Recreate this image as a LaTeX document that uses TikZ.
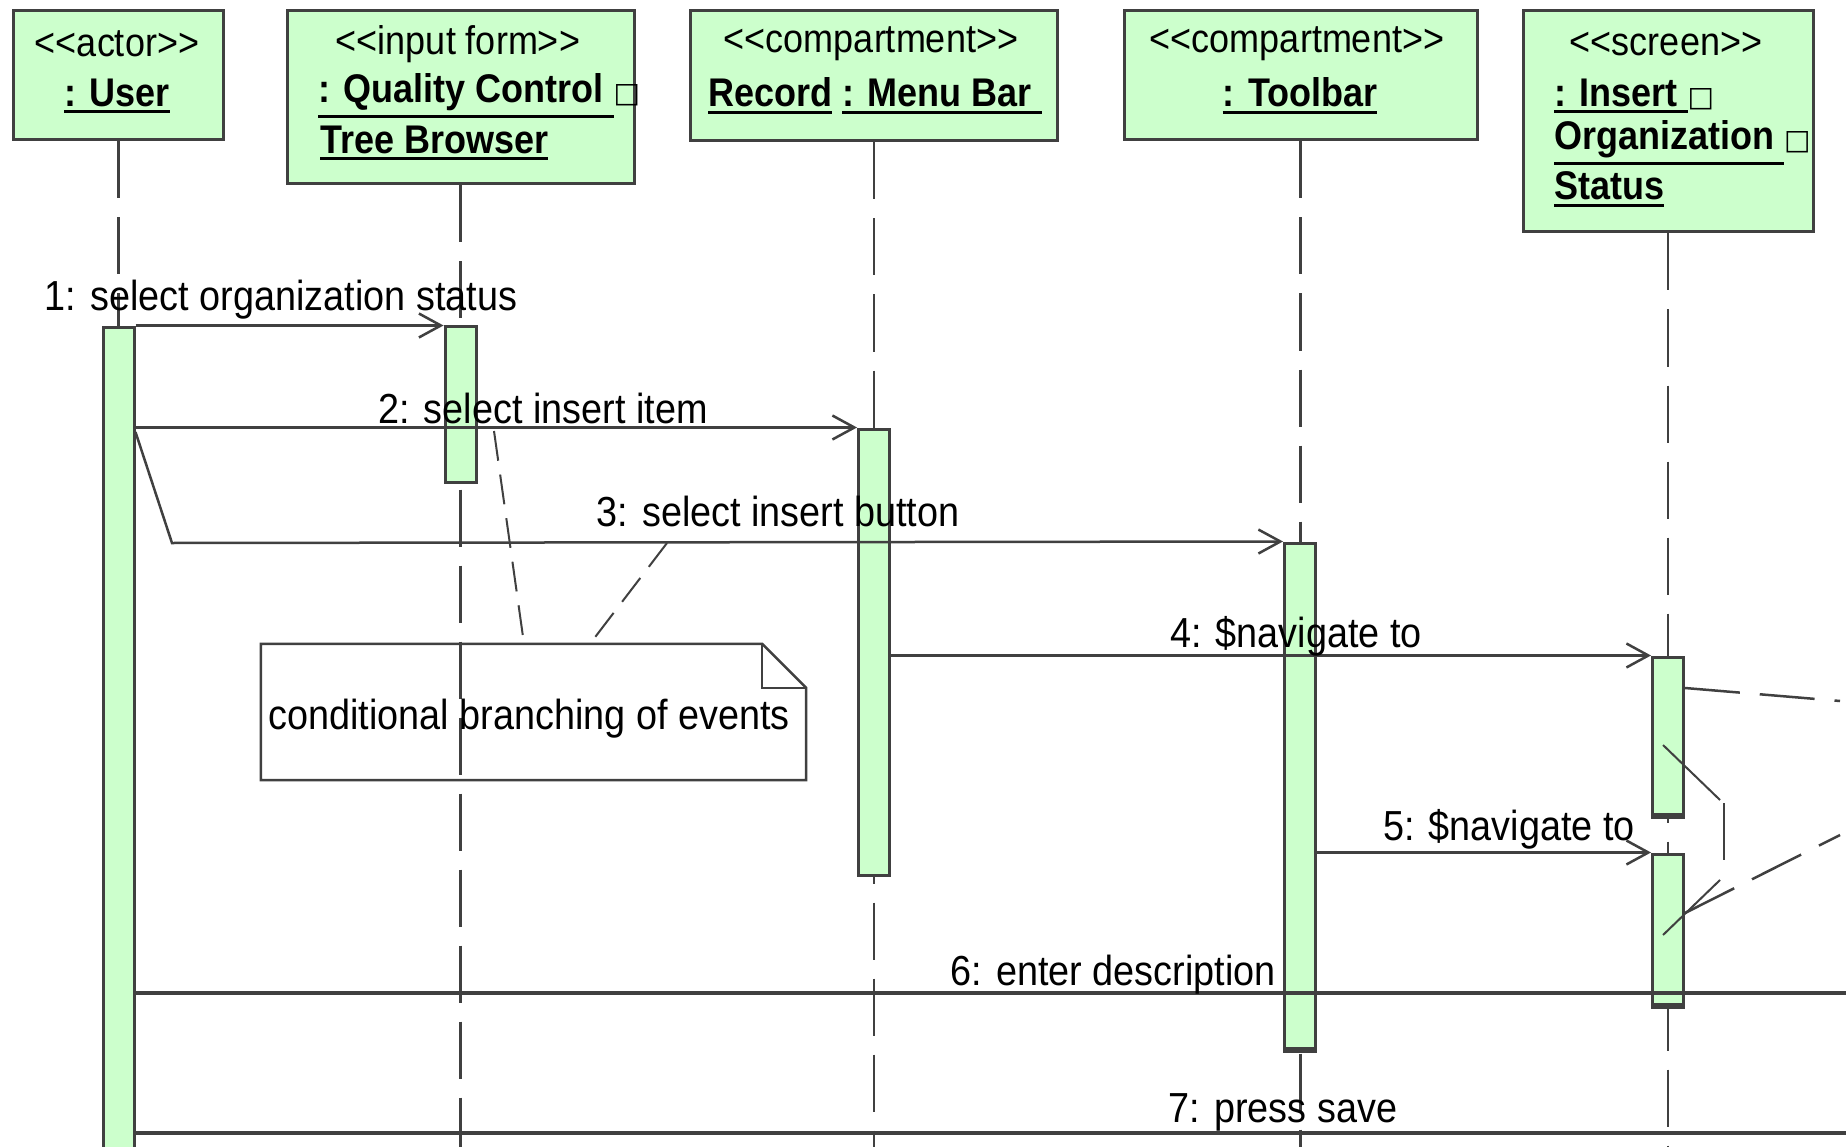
\documentclass[tikz,border=0pt]{standalone}
\usepackage{fontspec}
\setmainfont[FakeStretch=0.9]{Liberation Sans}
\newfontfamily\dvs{DejaVu Sans}
\usetikzlibrary{arrows.meta}
\definecolor{actfill}{HTML}{CCFFCC}
\definecolor{ln}{HTML}{404040}
\newcommand\ulx[1]{\vtop{\hbox{#1}\kern4pt\hrule height 3pt}}
\newcommand\sq{{\dvs\mdseries\fontsize{28}{30}\selectfont □}}
\begin{document}
\begin{tikzpicture}[x=1pt,y=-1pt,
  hdr/.style={draw=ln, line width=3pt, fill=actfill, inner sep=0pt},
  act/.style={draw=ln, line width=3pt, fill=actfill, inner sep=0pt, minimum width=31pt},
  life/.style={draw=ln, line width=2.5pt, dash pattern=on 57pt off 19pt},
  msg/.style={draw=ln, line width=2.5pt, -{Straight Barb[length=22pt,width=24pt,line width=2.5pt]}},
  bigmsg/.style={draw=ln, line width=3.5pt},
  lbl/.style={inner sep=0pt, font=\fontsize{42}{50}\selectfont},
  stereo/.style={inner sep=0pt, font=\fontsize{40}{48}\selectfont},
  nm/.style={inner sep=0pt, font=\fontsize{40}{48}\selectfont\bfseries},
  notelink/.style={draw=ln, line width=2pt, dash pattern=on 30pt off 14pt},
  thin/.style={draw=ln, line width=2pt},
  longdash/.style={draw=ln, line width=2.5pt, dash pattern=on 55pt off 20pt},
  thickend/.style={draw=ln, line width=6pt}
]
\useasboundingbox (0,0) rectangle (1846,1147);
\fill[white] (0,0) rectangle (1846,1147);
\clip (0,0) rectangle (1846,1147);

% header boxes
\node[hdr, minimum width=210pt, minimum height=129pt] (hU) at (118.5,75.5) {};
\node[hdr, minimum width=347pt, minimum height=173pt] (hI) at (460.5,97.5) {};
\node[hdr, minimum width=367pt, minimum height=130pt] (hM) at (874,76) {};
\node[hdr, minimum width=353pt, minimum height=129pt] (hT) at (1300.5,75.5) {};
\node[hdr, minimum width=290pt, minimum height=221pt] (hS) at (1668,121.5) {};

% header texts
\node[stereo] (sU) at (117,44) {<{}<actor>{}>};
\node[nm] (nU) at (117,96) {\ulx{: User}};
\node[stereo] (sI) at (458,44) {<{}<input form>{}>};
\node[nm, anchor=west] (nI1) at (318,96) {\ulx{: Quality Control }\sq};
\node[nm, anchor=west] (nI2) at (320,143) {\ulx{Tree Browser}};
\node[stereo] (sM) at (871,44) {<{}<compartment>{}>};
\node[nm, anchor=west] (nM) at (708,96) {\ulx{Record} \ulx{: Menu Bar }};
\node[stereo] (sT) at (1297,44) {<{}<compartment>{}>};
\node[nm] (nT) at (1300,96) {\ulx{: Toolbar}};
\node[stereo] (sS) at (1666,44) {<{}<screen>{}>};
\node[nm, anchor=west] (nS1) at (1554,96) {\ulx{: Insert }\sq};
\node[nm, anchor=west] (nS2) at (1554,143) {\ulx{Organization }\sq};
\node[nm, anchor=west] (nS3) at (1554,189) {\ulx{Status}};

% lifelines
\coordinate (bot) at (0,1160);
\draw[life] (hU.south) -- (hU.south |- bot);
\draw[life] (hI.south) -- (hI.south |- bot);
\draw[life] (hM.south) -- (hM.south |- bot);
\draw[life] (hT.south) -- (hT.south |- bot);
\draw[life] (hS.south) -- (hS.south |- bot);

% note
\node[inner sep=0pt, minimum width=545pt, minimum height=136pt] (note) at (533.5,712) {};
\node[lbl] (ntext) at (529,719) {conditional branching of events};
\draw[thin, line width=2.5pt] (note.north west) -- ([xshift=-44pt]note.north east) -- ([yshift=-44pt]note.north east) -- (note.south east) -- (note.south west) -- cycle;
\draw[thin, line width=2.5pt] ([xshift=-44pt]note.north east) -- ([xshift=-44pt,yshift=-44pt]note.north east) -- ([yshift=-44pt]note.north east);

% activations
\node[act, minimum height=852pt] (aU) at (118.5,754) {};
\node[act, minimum height=155pt] (aI) at (460.5,404.5) {};
\node[act, minimum height=446pt] (aM) at (874,652) {};
\node[act, minimum height=505pt] (aT) at (1300,795.5) {};
\node[act, minimum height=157pt] (aS1) at (1668,735.5) {};
\node[act, minimum height=150pt] (aS2) at (1668,929) {};
\draw[thickend] (aT.south west) -- (aT.south east);
\draw[thickend] (aS1.south west) -- (aS1.south east);
\draw[thickend] (aS2.south west) -- (aS2.south east);

% note links
\draw[notelink] (494,431) -- (note.north -| 524,0);
\draw[notelink] (667,543) -- (note.north -| 590,0);

% messages
\draw[msg] (aU.east |- aI.north west) -- (aI.north west);
\draw[msg] (aU.east |- aM.north west) -- (aM.north west);
\coordinate (m3a) at (136,432);
\coordinate (m3b) at (172,543);
\draw[msg] (aU.east |- m3a) -- (m3b) -- (aT.north west);
\draw[msg] (aM.east |- aS1.north west) -- (aS1.north west);
\draw[msg] (aT.east |- aS2.north west) -- (aS2.north west);
\coordinate (r6) at (1860,993);
\coordinate (r7) at (1860,1133);
\draw[bigmsg] (aU.east |- r6) -- (r6);
\draw[bigmsg] (aU.east |- r7) -- (r7);

% right-side partial connectors
\draw[longdash] (aS1.east |- 0,688) -- (1840,701);
\draw[thin] (1663,745) -- (1720,800);
\draw[thin, line width=2.5pt] (1724,803) -- (1724,860);
\draw[thin] (1720,880) -- (1663,935);
\draw[longdash] (1685,913) -- (1840,835);

% labels
\node[lbl] (l1) at (281,300) {1: select organization status};
\node[lbl] (l2) at (543,408) {2: select insert item};
\node[lbl] (l3) at (778,511) {3: select insert button};
\node[lbl] (l4) at (1296,636) {4: \$navigate to};
\node[lbl] (l5) at (1509,829) {5: \$navigate to};
\node[lbl] (l6) at (1113,975) {6: enter description};
\node[lbl] (l7) at (1283,1112) {7: press save};
\end{tikzpicture}
\end{document}
